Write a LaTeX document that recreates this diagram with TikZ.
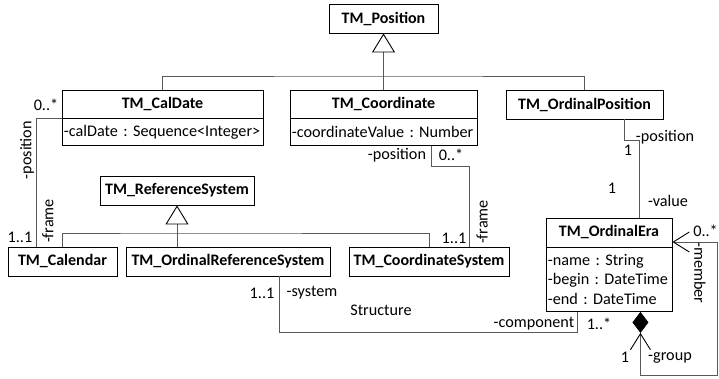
\documentclass[tikz,border=0pt]{standalone}
\usepackage{fontspec}
\setmainfont{Carlito}
\frenchspacing
\usetikzlibrary{arrows.meta,calc}
\begin{document}
\begin{tikzpicture}[x=1pt,y=-1pt,
  txt/.style={font=\fontsize{16.2}{19.5}\selectfont},
  cls/.style={draw=black, line width=0.9pt, txt, font=\fontsize{16}{19.5}\selectfont\bfseries,
    minimum height=29pt, inner sep=0pt, fill=white},
  attr/.style={draw=black, line width=0.9pt, txt, inner xsep=1.5pt, inner ysep=0pt,
    align=left, anchor=north west},
  conn/.style={draw=black!65, line width=0.8pt},
  gen/.style={conn, -{Triangle[open, length=19pt, width=23pt, line width=0.9pt, color=black]}},
  openend/.tip={Straight Barb[length=16pt, width=20pt, line width=0.9pt, color=black]},
  lbl/.style={txt, inner sep=0pt},
]
\useasboundingbox (0,0) rectangle (719,379);

% classes
\node[cls, minimum width=109pt] (pos) at (383.5,18.5) {TM\_Position};
\node[cls, minimum width=201pt, minimum height=28pt] (caldate) at (162.5,104) {TM\_CalDate};
\node[attr, minimum width=201pt, minimum height=27pt, text width=198pt] (caldateA) at (62,118)
  {\mbox{-calDate : Sequence<Integer>}};
\node[cls, minimum width=187pt, minimum height=28pt] (coord) at (383.5,104) {TM\_Coordinate};
\node[attr, minimum width=187pt, minimum height=27pt, text width=184pt] (coordA) at (290,118)
  {\mbox{-coordinateValue : Number}};
\node[cls, minimum width=157pt] (ordpos) at (584.5,104.5) {TM\_OrdinalPosition};
\node[cls, minimum width=154pt] (refsys) at (177,190.5) {TM\_ReferenceSystem};
\node[cls, minimum width=109pt] (calendar) at (62.5,261.5) {TM\_Calendar};
\node[cls, minimum width=204pt] (ordref) at (228,261.5) {TM\_OrdinalReferenceSystem};
\node[cls, minimum width=160pt] (coordsys) at (429,261.5) {TM\_CoordinateSystem};
\node[cls, minimum width=126pt] (eraH) at (609,232.5) {TM\_OrdinalEra};
\node[attr, minimum width=126pt, minimum height=64pt, text width=123pt] (eraA) at (546,247)
  {-name : String\\-begin : DateTime\\-end : DateTime};

% generalisations
\draw[gen] (coord.north) -- (pos.south);
\coordinate (gj) at (383.5,76);
\draw[conn] (caldate.north) |- (gj) -| (ordpos.north);
\draw[gen] (refsys.south |- ordref.north) -- (refsys.south);
\coordinate (rj) at (177,233);
\draw[conn] (calendar.north) |- (rj) -| (coordsys.north);

% associations
\draw[conn] (caldateA.north west) -| ([xshift=-26.5pt]calendar.north);
\draw[conn] ([xshift=47.5pt]coordA.south) -- ++(0,21) -| ([xshift=40pt]coordsys.north);
\draw[conn] ([xshift=39.5pt]ordpos.south) -- ++(0,21) -| ([xshift=30pt]eraH.north);
\draw[conn] ([xshift=51pt]ordref.south) -- ++(0,56) -| ([xshift=-32pt]eraA.south);

% composition loop
\coordinate (dgb) at ([xshift=31pt, yshift=-21pt]eraA.south);
\draw[conn, -{Diamond[length=21pt, width=16pt, fill=black, color=black]}]
  (dgb) -- ([xshift=31pt]eraA.south);
\coordinate (loopc) at (717,375);
\draw[conn, {openend}-{openend}] (dgb) |- (loopc) |- ([yshift=-9.5pt]eraH.east);

% role names and multiplicities
\node[lbl] (m1) at (46,105) {0..*};
\node[lbl, rotate=90] (r1) at (27,150) {-position};
\node[lbl] (m2) at (20,237) {1..1};
\node[lbl, rotate=90] (r2) at (48,221) {-frame};
\node[lbl] (r3) at (397,155) {-position};
\node[lbl] (m3) at (451,155) {0..*};
\node[lbl] (m4) at (454,238) {1..1};
\node[lbl, rotate=90] (r4) at (482,222) {-frame};
\node[lbl] (r5) at (665,137) {-position};
\node[lbl] (m5) at (628,150) {1};
\node[lbl] (m6) at (612,188) {1};
\node[lbl] (r6) at (668,201) {-value};
\node[lbl] (m7) at (262,293) {1..1};
\node[lbl] (r7) at (312,293) {-system};
\node[lbl] (an) at (381,310) {Structure};
\node[lbl] (r8) at (534,324) {-component};
\node[lbl] (m8) at (599,324) {1..*};
\node[lbl, anchor=east] (m9) at (718,231) {0..*};
\node[lbl, rotate=-90] (r9) at (700,273) {-member};
\node[lbl] (m10) at (625,357) {1};
\node[lbl] (r10) at (670,358) {-group};
\end{tikzpicture}
\end{document}
